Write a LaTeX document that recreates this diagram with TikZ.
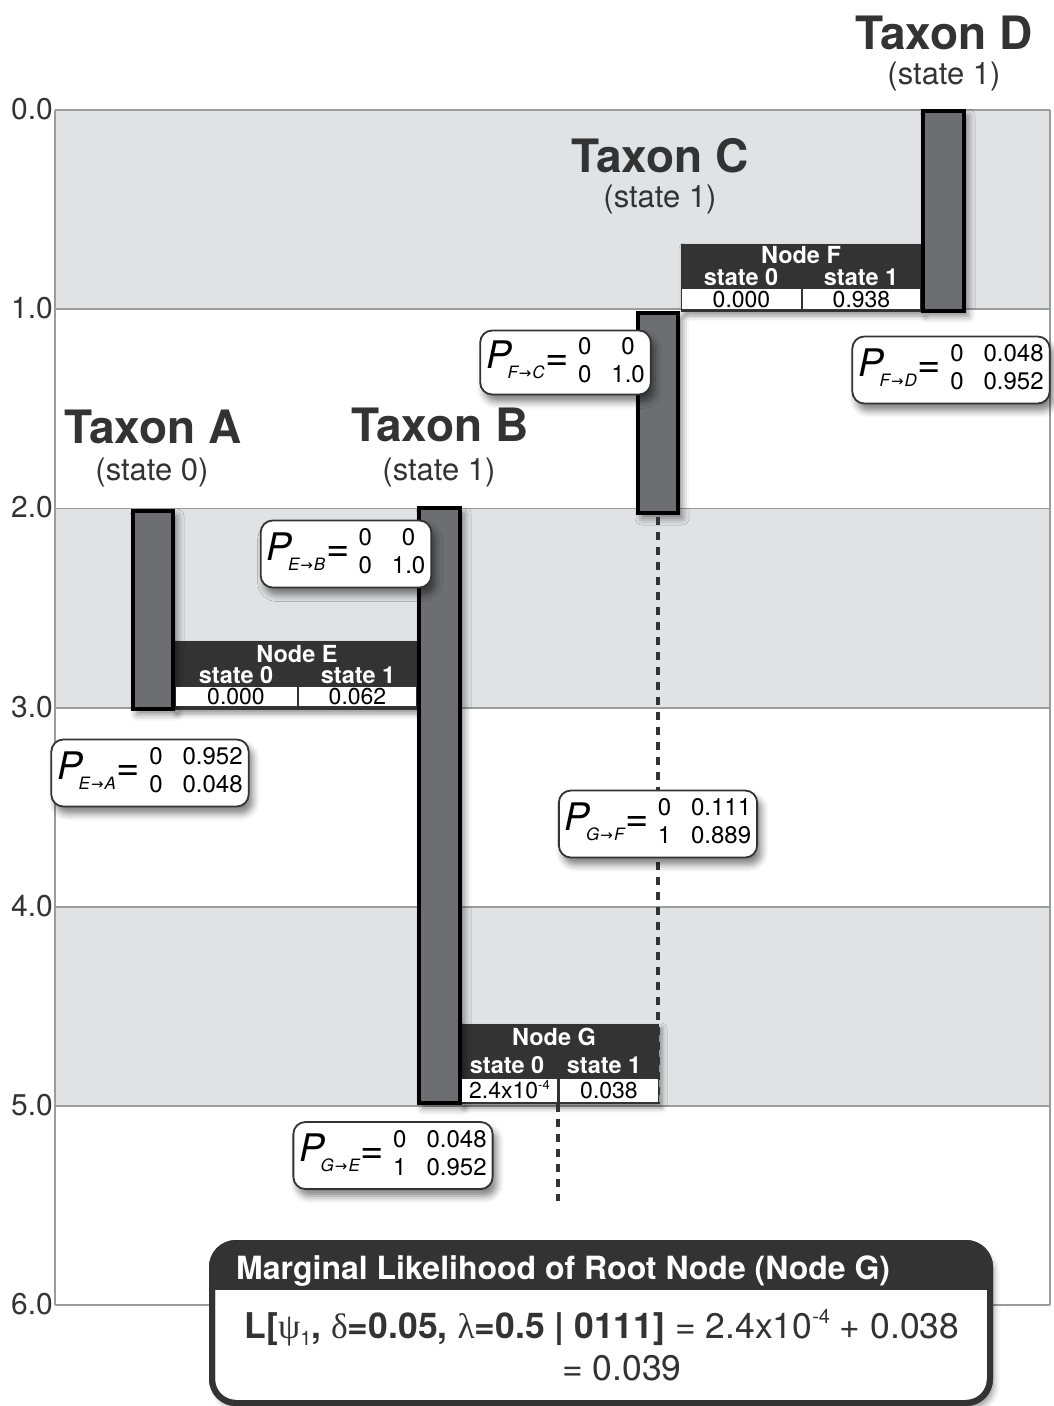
\documentclass[tikz,border=0pt]{standalone}
\usepackage{fontspec}
\setmainfont{TeX Gyre Heros}
\newfontfamily\greekfont{Liberation Serif}
\newfontfamily\arrowfont{DejaVu Sans}
\usetikzlibrary{shadows.blur}

\definecolor{bandgray}{HTML}{E1E2E4}
\definecolor{gridgray}{HTML}{9C9C9E}
\definecolor{bargray}{HTML}{6D6E71}
\definecolor{inkdark}{HTML}{333333}

\newcommand{\fsize}[1]{\fontsize{#1}{#1}\selectfont}
\newcommand{\expo}[2]{\raisebox{0.42em}{\fsize{#1}#2}}
\newcommand{\transP}[6]{%
{\fsize{38}\itshape P}\hspace{-4pt}%
\raisebox{-10pt}{\fsize{17}\itshape #1\hspace{1pt}{\arrowfont\upshape\fsize{15}→}\hspace{1pt}#2}%
\hspace{1pt}\raisebox{-1.5pt}{\fsize{40}=}\hspace{9pt}%
{\fontsize{24}{28}\selectfont\begin{tabular}[c]{@{}c@{\hspace{20pt}}c@{}}#3&#4\\#5&#6\end{tabular}}}

\begin{document}
\begin{tikzpicture}[x=1pt,y=-1pt,
  band/.style={fill=bandgray},
  gridline/.style={draw=gridgray, line width=1.5pt},
  axislabel/.style={text=inkdark, font=\fsize{30}, inner sep=0pt, anchor=base east},
  branchbar/.style={draw=black, line width=4pt, fill=bargray, inner sep=0pt,
    blur shadow={shadow xshift=4pt, shadow yshift=-5pt, shadow blur radius=7pt, shadow opacity=50}},
  statebox/.style={fill=inkdark, inner sep=0pt,
    blur shadow={shadow xshift=3pt, shadow yshift=-4pt, shadow blur radius=5pt, shadow opacity=40}},
  statetitle/.style={text=white, font=\bfseries\fsize{23.5}, inner sep=0pt, anchor=base},
  statecell/.style={fill=white, inner sep=0pt, text height=16.5pt, text depth=0pt, font=\fsize{23}},
  dotline/.style={draw=inkdark, line width=4.5pt, dash pattern=on 8pt off 7pt},
  pbox/.style={draw=inkdark, line width=1.8pt, fill=white, rounded corners=12pt,
    inner xsep=6pt, inner ysep=4pt, minimum height=67pt,
    blur shadow={shadow xshift=4pt, shadow yshift=-7pt, shadow blur radius=7pt, shadow opacity=50}},
  taxon/.style={text=inkdark, font=\bfseries\fsize{46}, inner sep=0pt, anchor=base},
  taxstate/.style={text=inkdark, font=\fsize{31}, inner sep=0pt, anchor=base}]
\useasboundingbox (0,0) rectangle (1053,1406);

\fill[band] (55,110) rectangle (1050,309);
\fill[band] (55,508.5) rectangle (1050,708);
\fill[band] (55,907) rectangle (1050,1106);
\draw[gridline] (55,110) -- (1050,110);
\draw[gridline] (55,309) -- (1050,309);
\draw[gridline] (55,508.5) -- (1050,508.5);
\draw[gridline] (55,708) -- (1050,708);
\draw[gridline] (55,907) -- (1050,907);
\draw[gridline] (55,1106) -- (1050,1106);
\draw[gridline] (55,1305) -- (1050,1305);
\draw[gridline] (55,110) -- (55,1305);
\draw[gridline] (1050,110) -- (1050,1305);

\node[axislabel] (ax0) at (53,119) {0.0};
\node[axislabel] (ax1) at (53,318) {1.0};
\node[axislabel] (ax2) at (53,517) {2.0};
\node[axislabel] (ax3) at (53,717) {3.0};
\node[axislabel] (ax4) at (53,916) {4.0};
\node[axislabel] (ax5) at (53,1115) {5.0};
\node[axislabel] (ax6) at (53,1314) {6.0};

\node[statebox, minimum width=244, minimum height=69] (nodeE) at (296,675.5) {};
\node[statebox, minimum width=241, minimum height=68] (nodeF) at (801.5,278) {};
\node[statebox, minimum width=198, minimum height=80] (nodeG) at (560,1064) {};

\node[branchbar, minimum width=40, minimum height=198] (barA) at (153,610) {};
\node[branchbar, minimum width=41, minimum height=595] (barB) at (439.5,805.5) {};
\node[branchbar, minimum width=40, minimum height=200] (barC) at (658,413) {};
\node[branchbar, minimum width=41, minimum height=200] (barD) at (943.5,211) {};

\coordinate (root) at (558,1201);
\draw[dotline] ([yshift=-2pt]barC.south) -- (barC.south |- nodeG.south);
\draw[dotline] (root |- nodeG.south) -- (root);

\node[statetitle] (nodeEname) at (297,662) {Node E};
\node[statetitle] (nodeEs0) at (236,683) {state 0};
\node[statetitle] (nodeEs1) at (358,683) {state 1};
\node[statecell, minimum width=121, minimum height=19] (nodeEp0) at (236,696.5) {0.000};
\node[statecell, minimum width=117, minimum height=19] (nodeEp1) at (357.5,696.5) {0.062};

\node[statetitle] (nodeFname) at (801,263) {Node F};
\node[statetitle] (nodeFs0) at (741,285) {state 0};
\node[statetitle] (nodeFs1) at (861,285) {state 1};
\node[statecell, minimum width=119, minimum height=20] (nodeFp0) at (741.5,299) {0.000};
\node[statecell, minimum width=117, minimum height=20] (nodeFp1) at (861.5,299) {0.938};

\node[statetitle] (nodeGname) at (554,1045) {Node G};
\node[statetitle] (nodeGs0) at (507,1073) {state 0};
\node[statetitle] (nodeGs1) at (604,1073) {state 1};
\node[statecell, minimum width=95, minimum height=23] (nodeGp0) at (509.5,1090.5) {2.4x10\expo{13}{-4}};
\node[statecell, minimum width=98, minimum height=23] (nodeGp1) at (609,1090.5) {0.038};

\node[taxon] (taxA) at (153,443) {Taxon A};
\node[taxstate] (taxAs) at (152,480) {(state 0)};
\node[taxon] (taxB) at (440,441) {Taxon B};
\node[taxstate] (taxBs) at (439,480) {(state 1)};
\node[taxon] (taxC) at (660,172) {Taxon C};
\node[taxstate] (taxCs) at (660,207) {(state 1)};
\node[taxon] (taxD) at (944,49) {Taxon D};
\node[taxstate] (taxDs) at (944,84) {(state 1)};

\node[pbox, minimum height=58pt] (pFC) at (565.5,362.5) {\transP{F}{C}{0}{0}{0}{1.0}};
\node[pbox] (pFD) at (951,370) {\transP{F}{D}{0}{0.048}{0}{0.952}};
\node[pbox] (pEB) at (346,554) {\transP{E}{B}{0}{0}{0}{1.0}};
\node[pbox] (pEA) at (150,773) {\transP{E}{A}{0}{0.952}{0}{0.048}};
\node[pbox] (pGF) at (658,824) {\transP{G}{F}{0}{0.111}{1}{0.889}};
\node[pbox] (pGE) at (393,1155.5) {\transP{G}{E}{0}{0.048}{1}{0.952}};

\node[draw=inkdark, line width=6pt, fill=white, rounded corners=24pt, minimum width=778, minimum height=160,
  blur shadow={shadow xshift=4pt, shadow yshift=-6pt, shadow blur radius=6pt, shadow opacity=40}] (marg) at (601,1323) {};
\begin{scope}
\clip[rounded corners=24pt] (212,1243) rectangle (990,1403);
\fill[inkdark] (212,1243) rectangle (990,1290);
\end{scope}
\draw[inkdark, line width=6pt, rounded corners=24pt] (212,1243) rectangle (990,1403);
\node[anchor=base west, inner sep=0pt, text=white, font=\bfseries\fsize{32}] (margtitle) at (236,1279) {Marginal Likelihood of Root Node (Node G)};
\node[anchor=base, inner sep=0pt, text=inkdark, font=\fsize{35.5}] (margline1) at (602,1338)
  {\textbf{L[}{\greekfont ψ}\raisebox{-0.2em}{\fsize{20}1}\textbf{, }{\greekfont δ}\textbf{=0.05, }{\greekfont λ}\textbf{=0.5 | 0111]} = 2.4x10\expo{20}{-4} + 0.038};
\node[anchor=base, inner sep=0pt, text=inkdark, font=\fsize{35.5}] (margline2) at (622,1380) {= 0.039};
\end{tikzpicture}
\end{document}
